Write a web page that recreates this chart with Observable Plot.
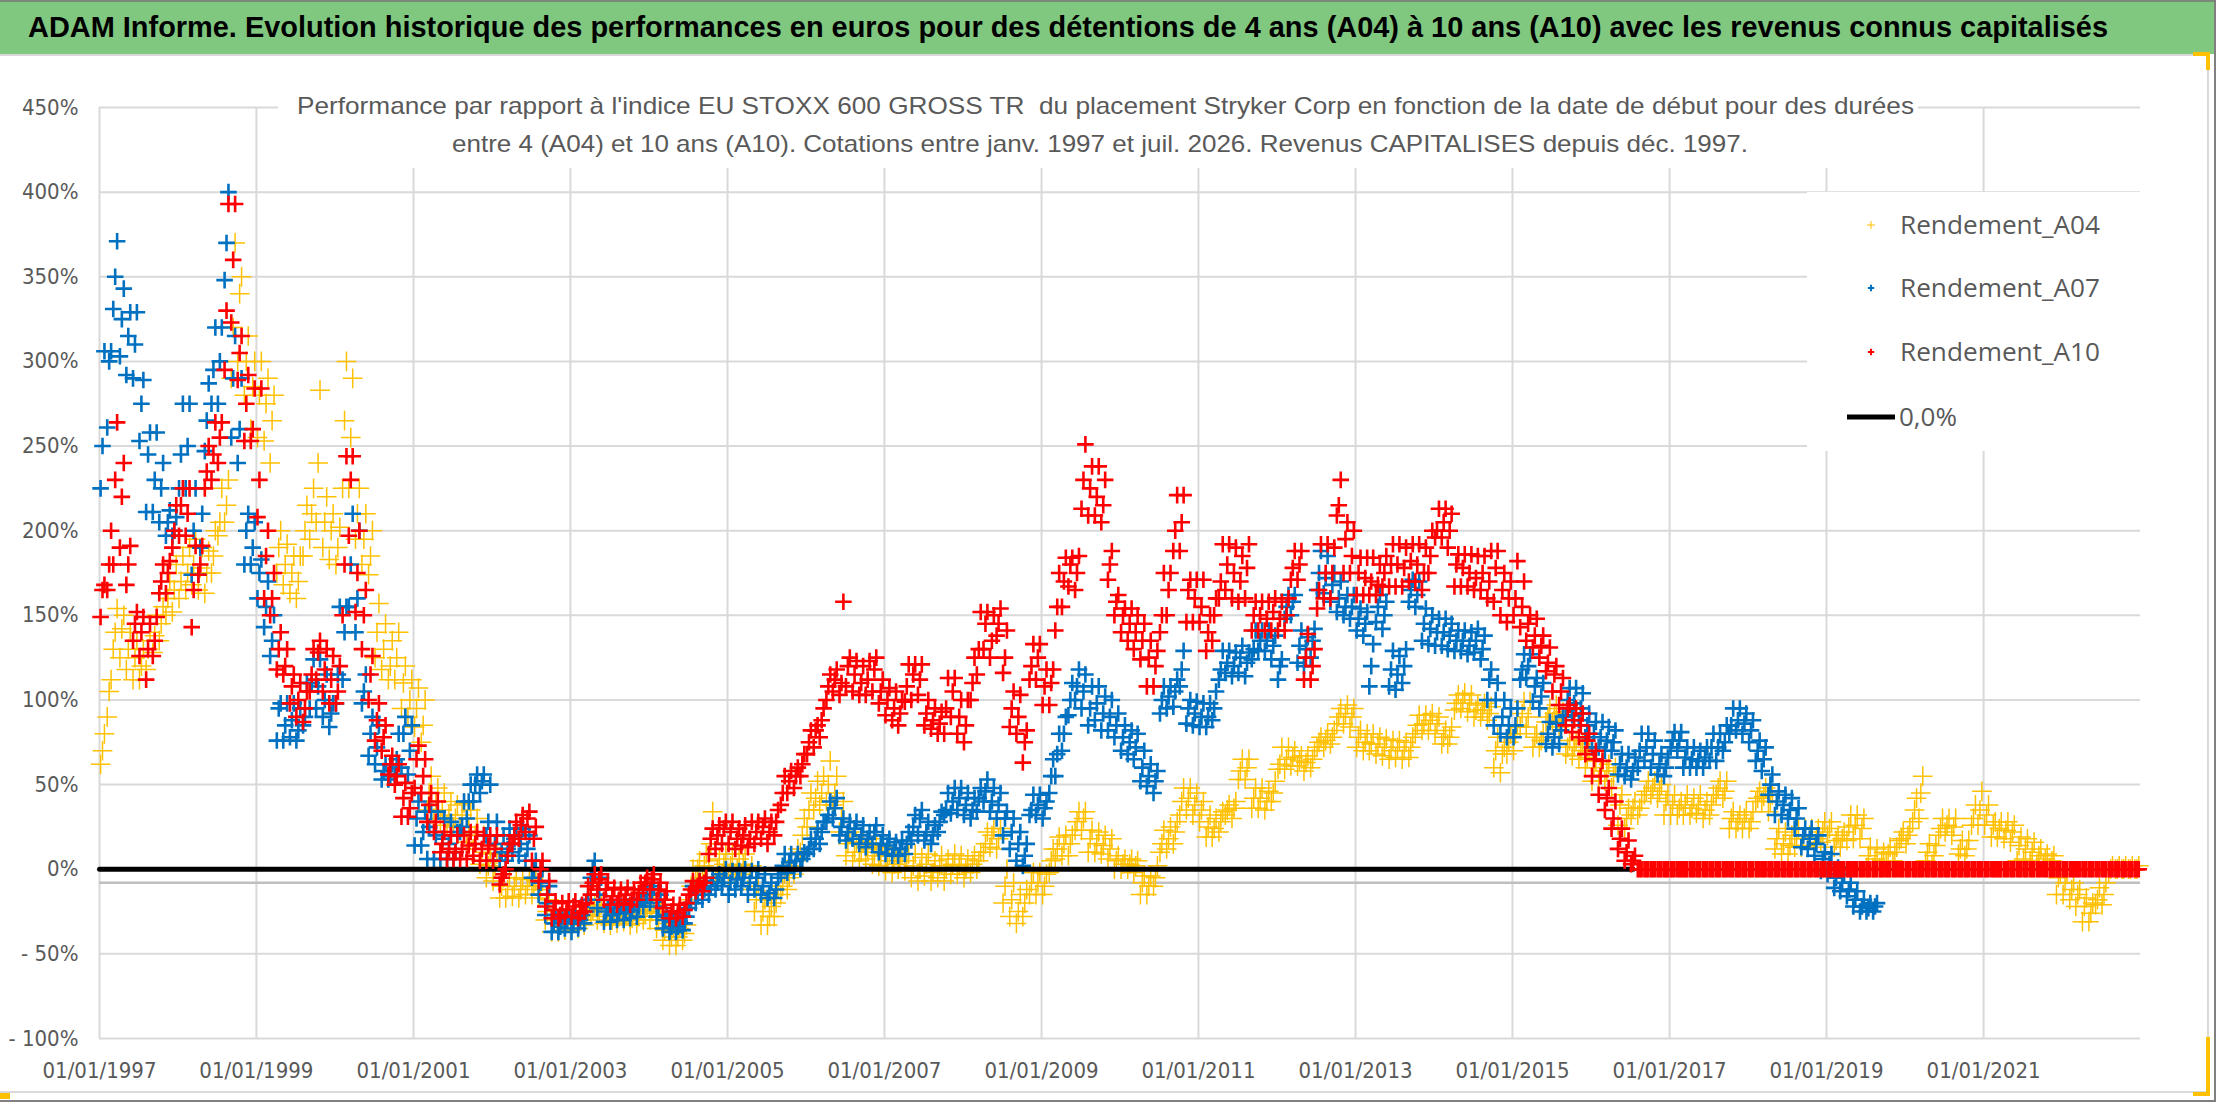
<!DOCTYPE html>
<html>
<head>
<meta charset="utf-8">
<script src="https://cdn.jsdelivr.net/npm/d3@7"></script>
<script src="https://cdn.jsdelivr.net/npm/@observablehq/plot@0.6"></script>
<style>
  html, body { margin: 0; padding: 0; background: #fff; }
  #page { position: relative; width: 2216px; height: 1102px; overflow: hidden; background: #fff; }
  #title { position: relative; width: 2216px; height: 54px; background: #80C880; border-top: 2px solid #7a8a7a; box-sizing: border-box; }
  #sep { height: 2px; background: #D9D9D9; width: 2208px; }
  #chart { position: relative; }
  .overlay { position: absolute; background: #fff; }
  .frame { position: absolute; }
</style>
</head>
<body>
<div id="page">
  <div id="title"></div>
  <div id="sep"></div>
  <div id="chart"></div>
</div>
<script>
// ---------------- Texts ----------------
const titleText = "ADAM Informe. Evolution historique des performances en euros pour des détentions de 4 ans (A04) à 10 ans (A10) avec les revenus connus capitalisés";
const subtitleLines = [
  "Performance par rapport à l'indice EU STOXX 600 GROSS TR  du placement Stryker Corp en fonction de la date de début pour des durées",
  "entre 4 (A04) et 10 ans (A10). Cotations entre janv. 1997 et juil. 2026. Revenus CAPITALISES depuis déc. 1997."
];
const seriesNames = ["Rendement_A04", "Rendement_A07", "Rendement_A10"];
const zeroLabel = "0,0%";

// ---------------- Axis ticks ----------------
const yTicks = [-100, -50, 0, 50, 100, 150, 200, 250, 300, 350, 400, 450];
const xTickYears = [1997, 1999, 2001, 2003, 2005, 2007, 2009, 2011, 2013, 2015, 2017, 2019, 2021];
const xDomainYears = [1997, 2023];
const xAxisCrossing = -8;           // value where the category axis line sits
const zeroLineEnd = [2016, 6, 15];  // year, month index, day: end of the 0,0% series

// ---------------- Monthly readings (%), first value = January 1997 ----------------
// A04: typical value, low and high of the monthly cloud
const A04 = [
  70,105,140,142,130,125,120,130,138,145,160,165,
  170,175,180,178,175,185,205,215,320,340,300,285,
  280,275,265,190,180,175,170,200,210,240,205,200,
  190,265,255,210,195,185,140,130,120,125,110,100,
  95,85,45,40,35,32,30,32,25,20,10,2,
  0,-10,-12,-10,-12,-10,-10,-12,-25,-32,-33,-32,
  -32,-30,-28,-24,-25,-28,-30,-28,-27,-29,-28,-26,
  -25,-30,-36,-40,-40,-38,-10,0,2,15,0,3,
  2,0,3,-5,-18,-25,-28,-20,-10,-5,5,20,
  35,42,45,50,45,30,15,10,10,12,8,8,
  5,3,5,5,2,0,3,-2,2,0,3,2,
  0,3,5,15,20,18,-10,-18,-25,-20,-8,-8,
  -10,5,12,15,15,28,30,18,15,14,12,5,
  3,3,2,-8,-10,-5,15,18,22,40,42,38,
  35,25,24,28,35,36,58,60,42,42,40,45,
  62,65,66,64,63,65,75,76,78,90,92,90,
  78,75,74,74,72,70,72,70,72,85,86,88,
  86,78,78,98,100,98,94,94,92,70,68,75,
  80,92,90,78,76,90,92,88,72,72,70,66,
  60,58,58,55,38,30,36,36,46,48,46,40,
  38,36,38,36,38,35,38,48,46,30,28,30,
  28,42,43,40,18,15,14,18,18,20,18,22,
  24,17,18,25,26,24,8,6,5,9,10,18,
  20,35,45,10,8,24,26,25,12,12,30,35,
  32,26,24,23,22,14,12,10,8,6,5,-5,
  -8,-12,-15,-22,-26,-18,-15,0,0,0,0,0
];
const A04low = [
  62,90,130,125,118,112,112,118,128,135,150,152,
  160,165,168,165,163,175,197,205,290,300,280,260,
  255,253,240,175,168,163,160,185,195,205,190,183,
  180,225,225,195,180,174,125,118,112,112,95,90,
  84,75,35,30,28,26,25,25,16,12,3,-5,
  -7,-17,-17,-16,-17,-15,-15,-17,-30,-37,-37,-36,
  -36,-35,-33,-27,-30,-32,-33,-32,-31,-33,-32,-30,
  -30,-35,-42,-45,-45,-42,-18,-7,-5,5,-7,-5,
  -5,-5,-3,-12,-25,-33,-33,-28,-15,-12,-3,10,
  25,35,38,40,38,22,8,5,5,6,3,2,
  -1,-2,0,-1,-5,-7,-4,-7,-5,-7,-3,-3,
  -5,-2,0,10,13,12,-20,-28,-32,-28,-15,-15,
  -15,-2,6,8,8,23,23,10,10,9,6,0,
  0,0,-2,-15,-15,-10,10,12,15,32,35,32,
  28,19,19,22,32,30,53,53,36,36,35,40,
  59,59,61,61,58,60,72,72,74,86,86,84,
  72,70,70,68,67,65,66,65,66,80,82,82,
  80,74,74,94,95,93,90,90,88,60,57,68,
  70,84,84,72,72,87,87,84,68,67,65,60,
  52,52,52,48,26,24,32,32,44,44,42,32,
  32,32,32,32,33,30,32,44,42,24,24,24,
  24,40,40,34,12,9,9,13,13,14,13,16,
  20,13,13,17,18,18,1,1,1,5,5,17,
  15,28,30,5,3,20,22,20,9,8,26,26,
  26,19,19,18,16,5,6,5,3,3,1,-15,
  -15,-18,-22,-31,-31,-21,-21,-2,0,0,0,0
];
const A04high = [
  80,112,154,150,140,135,130,140,150,155,170,180,
  185,190,195,190,188,200,225,230,370,350,315,300,
  300,290,280,200,192,185,185,215,225,283,220,210,
  202,300,290,225,210,200,157,145,135,140,120,112,
  107,100,55,48,45,40,38,39,35,30,20,9,
  9,-5,-5,-5,-6,-5,-7,-7,-18,-27,-28,-27,
  -27,-25,-24,-21,-21,-25,-26,-25,-24,-25,-24,-22,
  -20,-25,-32,-35,-35,-33,0,5,9,34,6,9,
  9,6,9,2,-10,-18,-22,-12,-3,2,12,30,
  45,52,55,64,55,40,22,16,16,18,14,13,
  9,8,9,9,9,7,9,5,8,6,9,8,
  6,8,10,22,24,24,0,-8,-15,-12,-2,-2,
  -3,12,19,20,20,34,34,23,22,20,18,8,
  6,6,5,-4,-4,2,23,25,28,48,48,45,
  40,32,30,34,38,40,65,65,48,48,46,52,
  72,72,70,67,67,70,78,80,82,95,97,95,
  82,80,80,78,77,76,76,75,78,91,91,92,
  90,82,84,103,104,103,97,98,96,78,72,80,
  85,99,99,80,80,95,97,93,76,76,74,70,
  64,64,62,60,44,36,40,40,52,52,50,44,
  44,40,44,42,44,40,44,52,52,34,32,34,
  34,46,48,44,24,22,20,24,24,24,24,28,
  28,20,22,32,32,30,13,12,10,13,13,22,
  24,42,55,15,14,30,30,30,17,17,38,46,
  38,28,28,28,26,19,18,16,12,9,8,-3,
  -3,-8,-12,-17,-20,-11,-8,2,2,2,2,2
];
// A07 (ends in August 2019)
const A07 = [
  250,300,350,325,315,310,275,245,230,225,205,200,
  245,250,200,190,265,295,300,370,290,260,200,190,
  175,155,135,95,85,88,82,90,110,108,100,92,
  115,140,180,160,105,80,72,58,55,65,80,70,
  30,22,25,20,18,15,10,25,40,50,52,28,
  15,10,12,18,15,12,0,-8,-20,-32,-34,-30,
  -32,-30,-25,0,-15,-25,-27,-26,-25,-24,-22,-18,
  -15,-22,-30,-34,-34,-32,-20,-15,-12,-10,-8,-5,
  -8,-6,-5,-8,-5,-10,-14,-12,2,4,5,6,
  12,18,22,32,36,25,22,24,20,18,22,15,
  14,12,12,15,25,30,22,20,28,35,40,42,
  38,35,42,46,40,38,30,22,15,8,35,38,
  36,55,68,80,100,108,105,95,98,92,90,85,
  78,75,72,60,55,52,100,102,105,118,95,92,
  90,90,95,118,122,120,125,122,130,135,135,132,
  120,155,158,132,130,135,175,172,168,160,155,155,
  148,145,120,155,150,118,115,120,165,162,145,142,
  140,140,138,135,135,132,135,130,112,100,90,85,
  85,118,120,108,102,80,78,82,100,98,95,85,
  80,78,76,75,62,60,58,70,72,68,62,60,
  76,76,66,65,64,66,72,72,75,85,88,86,
  82,70,65,50,40,38,35,30,20,18,15,6,
  3,-5,-8,-12,-18,-22,-23,-22
];
const A07low = [
  225,261,331,303,292,290,253,211,211,205,197,197,
  225,225,174,174,247,275,275,348,255,240,180,180,
  160,143,126,76,76,78,76,85,95,95,90,84,
  98,112,155,140,98,67,62,53,53,56,60,56,
  14,14,6,6,6,6,6,22,30,40,45,20,
  5,5,5,10,8,5,-5,-15,-27,-37,-37,-35,
  -37,-35,-32,-5,-23,-31,-31,-30,-30,-29,-28,-22,
  -20,-28,-35,-37,-37,-36,-23,-20,-18,-15,-12,-10,
  -15,-12,-10,-15,-12,-15,-17,-17,-3,-2,-1,0,
  9,12,15,28,30,20,17,18,15,13,15,10,
  9,8,8,9,17,20,17,15,22,32,33,35,
  32,30,34,40,34,30,20,12,5,2,32,32,
  30,45,55,70,91,100,95,85,88,82,82,78,
  70,68,65,52,49,45,92,95,96,108,86,85,
  84,84,88,112,116,114,116,114,124,129,129,124,
  112,148,150,122,120,125,165,163,158,152,150,148,
  141,138,108,146,142,108,106,110,158,155,135,133,
  132,132,130,129,129,127,128,124,100,85,80,78,
  78,112,113,99,95,74,72,74,91,91,88,78,
  72,72,70,70,56,55,53,60,64,60,56,55,
  72,70,60,60,60,60,64,64,70,80,82,80,
  75,64,58,44,32,32,30,24,13,12,8,-1,
  -3,-11,-13,-16,-22,-25,-25,-25
];
const A07high = [
  306,306,371,343,329,329,289,258,258,240,212,208,
  275,275,225,210,287,320,320,400,315,290,210,205,
  183,170,150,98,98,98,95,110,124,124,115,98,
  155,155,210,200,115,90,85,62,62,80,90,85,
  40,34,34,34,30,28,22,40,50,56,56,50,
  28,20,24,24,24,20,5,0,-10,-27,-28,-27,
  -28,-27,-18,5,-5,-23,-23,-22,-22,-21,-18,-15,
  -10,-15,-27,-31,-31,-28,-10,-7,-7,-5,-3,0,
  -1,-1,0,-1,0,-3,-8,-5,9,9,9,10,
  18,24,28,40,42,30,28,28,26,22,26,20,
  18,16,17,22,32,35,28,26,34,45,48,48,
  45,42,48,53,48,45,34,30,22,15,44,44,
  40,65,80,90,110,118,115,108,108,102,100,92,
  85,82,80,70,62,58,108,108,112,129,100,99,
  98,98,105,129,129,128,132,128,141,141,141,138,
  124,162,162,141,137,142,188,185,175,170,162,162,
  154,152,133,162,158,129,126,130,171,170,154,150,
  148,148,145,141,141,140,142,138,118,110,100,95,
  95,127,127,113,110,87,86,90,107,107,104,92,
  87,87,84,82,68,68,66,80,80,76,68,66,
  81,81,72,72,70,72,80,80,85,95,95,92,
  88,76,72,56,46,44,42,36,24,24,20,10,
  9,1,-3,-8,-13,-18,-20,-20
];
// A10 (zero after July 2016)
const A10 = [
  165,180,230,220,180,145,140,130,135,170,175,200,
  215,210,165,180,235,245,255,330,360,305,275,260,
  230,185,160,130,120,108,100,95,115,128,118,112,
  105,180,230,175,150,115,88,78,62,55,42,36,
  65,55,38,28,15,12,10,12,14,15,12,14,
  12,-5,8,20,26,30,18,0,-15,-24,-27,-24,
  -22,-26,-20,-8,-6,-12,-16,-18,-15,-18,-14,-8,
  -6,-12,-18,-25,-26,-24,-12,-10,-8,18,20,24,
  22,18,20,18,22,25,22,28,45,52,55,62,
  75,82,88,108,112,110,120,115,110,112,118,105,
  100,95,92,108,115,112,92,88,86,95,105,90,
  85,110,130,145,135,145,125,95,90,75,120,125,
  108,110,155,170,180,175,230,225,220,215,180,158,
  150,145,140,135,125,120,150,165,200,205,165,160,
  155,140,150,170,180,175,170,178,150,150,148,152,
  148,150,178,180,125,120,165,175,175,215,195,185,
  175,172,170,168,175,180,180,178,182,180,175,185,
  200,205,200,180,178,175,172,175,170,178,165,160,
  160,155,145,138,132,122,115,105,95,88,85,76,
  65,55,42,30,18,10,5,0,0,0,0,0,
  0,0,0,0,0,0,0,0,0,0,0,0,
  0,0,0,0,0,0,0,0,0,0,0,0,
  0,0,0,0,0,0,0,0,0,0,0,0,
  0,0,0,0,0,0,0,0,0,0,0,0,
  0,0,0,0,0,0,0,0,0,0,0,0,
  0,0,0,0,0,0,0,0,0,0,0,0
];
const A10low = [
  149,165,180,190,168,135,126,112,126,163,163,190,
  197,197,143,174,225,230,240,295,323,289,253,253,
  208,160,150,118,115,98,90,87,105,112,105,98,
  98,150,197,152,130,100,76,70,56,50,31,31,
  48,45,28,22,10,6,6,6,6,8,5,5,
  5,-9,0,15,18,22,5,-7,-22,-29,-29,-28,
  -28,-29,-25,-15,-12,-18,-21,-21,-20,-21,-18,-12,
  -12,-18,-23,-29,-29,-28,-15,-13,-13,9,12,15,
  15,12,14,13,15,18,15,20,38,45,48,55,
  68,72,78,100,105,103,108,105,103,103,105,98,
  91,88,85,99,100,103,85,83,80,80,90,80,
  75,100,115,130,125,138,116,84,80,63,112,112,
  97,97,141,155,167,165,213,209,209,205,171,150,
  140,135,130,124,108,108,140,150,188,188,146,146,
  146,129,135,160,165,160,158,160,141,141,141,141,
  141,141,171,171,112,112,154,160,160,209,175,175,
  162,162,162,162,167,167,167,167,170,170,165,175,
  196,196,190,167,167,167,165,165,160,158,150,146,
  150,143,135,131,125,117,105,97,85,81,78,68,
  55,44,35,24,12,5,3,0,0,0,0,0,
  0,0,0,0,0,0,0,0,0,0,0,0,
  0,0,0,0,0,0,0,0,0,0,0,0,
  0,0,0,0,0,0,0,0,0,0,0,0,
  0,0,0,0,0,0,0,0,0,0,0,0,
  0,0,0,0,0,0,0,0,0,0,0,0,
  0,0,0,0,0,0,0,0,0,0,0,0
];
const A10high = [
  168,200,264,240,191,152,149,145,149,180,182,215,
  225,225,191,191,250,264,264,393,393,315,292,284,
  284,200,175,140,130,115,110,105,130,135,130,126,
  120,244,244,200,165,126,98,85,67,62,51,45,
  73,65,45,40,22,20,20,20,22,22,20,20,
  20,-3,15,28,32,34,25,5,-7,-19,-20,-19,
  -19,-21,-10,-3,-3,-8,-11,-12,-11,-12,-8,-5,
  -3,-8,-13,-21,-21,-20,-7,-7,-5,24,26,28,
  28,24,26,28,28,30,28,35,55,58,60,68,
  82,85,95,115,118,158,125,123,120,123,125,112,
  107,105,100,121,121,121,100,95,93,113,113,100,
  100,125,152,152,150,154,141,105,103,82,133,133,
  118,118,175,184,184,185,251,238,238,230,188,162,
  154,154,150,145,135,129,175,175,221,221,171,171,
  171,150,160,192,192,190,185,192,158,158,158,160,
  158,160,188,188,139,130,192,192,190,230,205,200,
  184,184,184,180,185,192,192,190,192,192,190,200,
  213,213,210,186,186,186,185,185,188,188,175,170,
  182,170,150,148,138,131,120,113,97,95,92,80,
  70,64,48,40,24,17,8,0,0,0,0,0,
  0,0,0,0,0,0,0,0,0,0,0,0,
  0,0,0,0,0,0,0,0,0,0,0,0,
  0,0,0,0,0,0,0,0,0,0,0,0,
  0,0,0,0,0,0,0,0,0,0,0,0,
  0,0,0,0,0,0,0,0,0,0,0,0,
  0,0,0,0,0,0,0,0,0,0,0,0
];

// ---------------- Styles ----------------
const colors = { A04: "#FFC000", A07: "#0070C0", A10: "#FF0000" };
const narrowFont = "'Liberation Sans Narrow', 'DejaVu Sans Condensed', 'Roboto', sans-serif";
const titleFont = "'Liberation Sans', Arial, sans-serif";
const legendFont = "'Open Sans', 'Noto Sans', sans-serif";
const textGray = "#595959";
const gridGray = "#D9D9D9";

// ---------------- Build tables ----------------
const startYear = 1997;
const readingDays = { low: 6, mid: 15, high: 24 };   // position of each reading within its month
const rows = (mid, low, high) => {
  const out = [];
  mid.forEach((v, i) => {
    out.push({ date: new Date(Date.UTC(startYear, i, readingDays.low)), value: low[i] });
    out.push({ date: new Date(Date.UTC(startYear, i, readingDays.mid)), value: v });
    out.push({ date: new Date(Date.UTC(startYear, i, readingDays.high)), value: high[i] });
  });
  return out;
};
const rowsA04 = rows(A04, A04low, A04high);
const rowsA07 = rows(A07, A07low, A07high);
const rowsA10 = rows(A10, A10low, A10high);
const zeroLine = [
  { date: new Date(Date.UTC(startYear, 0, 1)), value: 0 },
  { date: new Date(Date.UTC(zeroLineEnd[0], zeroLineEnd[1], zeroLineEnd[2])), value: 0 }
];
const xTickDates = xTickYears.map(y => new Date(Date.UTC(y, 0, 1)));
const fmtPct = d => d < 0 ? "- " + (-d) + "%" : d + "%";
const fmtDate = d => "01/01/" + d.getUTCFullYear();

// ---------------- SVG helpers ----------------
const NS = "http://www.w3.org/2000/svg";
function svgText(parent, str, x, y, len, attrs) {
  const t = document.createElementNS(NS, "text");
  t.setAttribute("x", x); t.setAttribute("y", y);
  if (len) { t.setAttribute("textLength", len); t.setAttribute("lengthAdjust", "spacingAndGlyphs"); }
  for (const k in attrs) t.setAttribute(k, attrs[k]);
  t.style.whiteSpace = "pre";
  t.textContent = str;
  parent.appendChild(t);
  return t;
}
function svgEl(tag, attrs, parent) {
  const e = document.createElementNS(NS, tag);
  for (const k in attrs) e.setAttribute(k, attrs[k]);
  parent.appendChild(e);
  return e;
}

// ---------------- Title ----------------
{
  const s = document.createElementNS(NS, "svg");
  s.setAttribute("width", 2216); s.setAttribute("height", 52);
  s.style.display = "block";
  svgText(s, titleText, 28, 35, 2080, { "font-family": titleFont, "font-size": 29, "font-weight": "bold", fill: "#000" });
  document.getElementById("title").appendChild(s);
}

// ---------------- Chart ----------------
const chart = Plot.plot({
  width: 2216,
  height: 1046,
  marginTop: 51,
  marginBottom: 64,
  marginLeft: 99,
  marginRight: 76,
  style: { fontFamily: narrowFont, fontSize: "22px", color: textGray, background: "#fff", overflow: "visible" },
  x: {
    type: "utc",
    domain: xDomainYears.map(y => new Date(Date.UTC(y, 0, 1))),
    ticks: xTickDates, tickFormat: fmtDate, tickSize: 0, tickPadding: 24, label: null
  },
  y: {
    domain: [yTicks[0], yTicks[yTicks.length - 1]],
    ticks: yTicks, tickFormat: fmtPct, tickSize: 0, tickPadding: 21, label: null
  },
  marks: [
    Plot.ruleY(yTicks, { stroke: gridGray, strokeWidth: 2 }),
    Plot.ruleX(xTickDates, { stroke: gridGray, strokeWidth: 2 }),
    Plot.ruleY([xAxisCrossing], { stroke: "#BFBFBF", strokeWidth: 2.5 }),
    Plot.dot(rowsA04, { x: "date", y: "value", symbol: "plus", stroke: colors.A04, r: 6.4, strokeWidth: 1.5 }),
    Plot.dot(rowsA07, { x: "date", y: "value", symbol: "plus", stroke: colors.A07, r: 5.4, strokeWidth: 2.6 }),
    Plot.line(zeroLine, { x: "date", y: "value", stroke: "#000", strokeWidth: 5 }),
    Plot.dot(rowsA10, { x: "date", y: "value", symbol: "plus", stroke: colors.A10, r: 5.4, strokeWidth: 2.6 })
  ]
});
document.getElementById("chart").appendChild(chart);

// ---------------- Subtitle overlay (inside plot area, white box) ----------------
const page = document.getElementById("page");
{
  const box = document.createElement("div");
  box.className = "overlay";
  Object.assign(box.style, { left: "278px", top: "85px", width: "1640px", height: "83px" });
  const s = document.createElementNS(NS, "svg");
  s.setAttribute("width", 1640); s.setAttribute("height", 83);
  svgText(s, subtitleLines[0], 19, 29, 1617, { "font-family": titleFont, "font-size": 24, fill: textGray });
  svgText(s, subtitleLines[1], 174, 67, 1296, { "font-family": titleFont, "font-size": 24, fill: textGray });
  box.appendChild(s);
  page.appendChild(box);
}

// ---------------- Legend overlay ----------------
{
  const box = document.createElement("div");
  box.className = "overlay";
  Object.assign(box.style, { left: "1807px", top: "192px", width: "333px", height: "259px" });
  const s = document.createElementNS(NS, "svg");
  s.setAttribute("width", 333); s.setAttribute("height", 259);
  const keys = ["A04", "A07", "A10"];
  const rowY = [33, 96, 160];
  keys.forEach((k, i) => {
    const cx = 64, cy = rowY[i];
    const h = k === "A04" ? 4 : 3.2;
    const w = k === "A04" ? 1 : 2;
    svgEl("path", { d: `M${cx - h},${cy}H${cx + h}M${cx},${cy - h}V${cy + h}`, stroke: colors[k], "stroke-width": w, fill: "none" }, s);
    svgText(s, seriesNames[i], 93, cy + 9, 200, { "font-family": legendFont, "font-size": 26, fill: textGray });
  });
  svgEl("line", { x1: 40, x2: 88, y1: 225, y2: 225, stroke: "#000", "stroke-width": 5 }, s);
  svgText(s, zeroLabel, 92, 234, 58, { "font-family": legendFont, "font-size": 26, fill: textGray });
  box.appendChild(s);
  page.appendChild(box);
}

// ---------------- Frame decorations ----------------
function frame(l, t, w, h, bg) {
  const d = document.createElement("div");
  d.className = "frame";
  Object.assign(d.style, { left: l + "px", top: t + "px", width: w + "px", height: h + "px", background: bg });
  page.appendChild(d);
}
frame(2207, 56, 2, 1036, "#D9D9D9");
frame(0, 1091, 2209, 2, "#D9D9D9");
frame(2214, 0, 2, 1102, "#808080");
frame(0, 1100, 2216, 2, "#808080");
frame(2193, 52, 17, 4, "#FFC000");
frame(2206, 52, 4, 18, "#FFC000");
frame(2206, 1037, 4, 59, "#FFC000");
frame(2193, 1092, 17, 4, "#FFC000");
frame(0, 1093, 10, 6, "#FFC000");
</script>
</body>
</html>
